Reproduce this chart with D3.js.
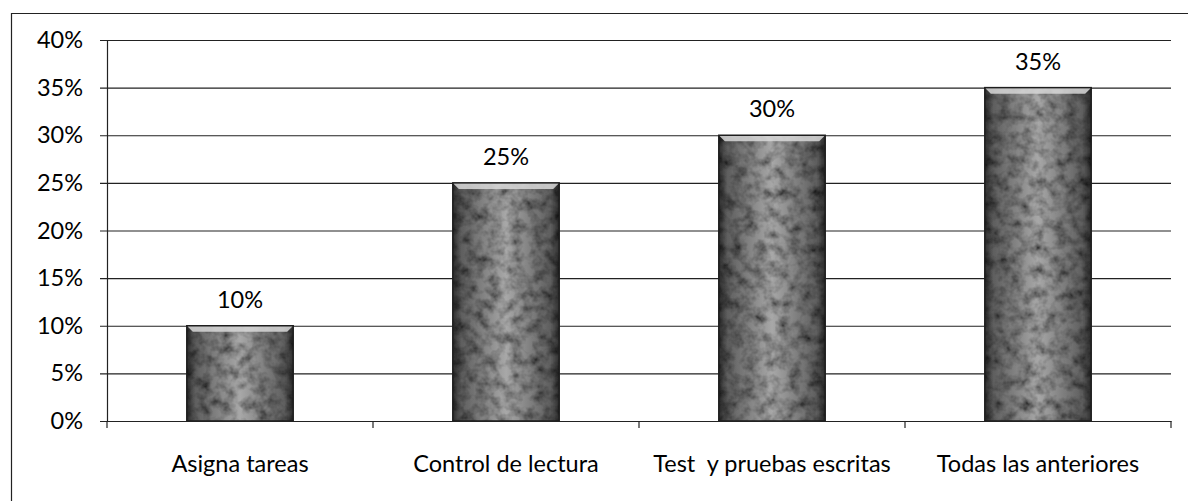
<!DOCTYPE html>
<html>
<head>
<meta charset="utf-8">
<script src="https://cdn.jsdelivr.net/npm/d3@7"></script>
<style>
  html, body { margin: 0; padding: 0; background: #fff; }
  svg { display: block; }
  text { font-family: Lato, "Open Sans", sans-serif; fill: #000; }
</style>
</head>
<body>
<script>
// Categories and their shares
const categories = ["Asigna tareas", "Control de lectura", "Test  y pruebas escritas", "Todas las anteriores"];
const values = [0.10, 0.25, 0.30, 0.35];
const yTicks = [0, 0.05, 0.10, 0.15, 0.20, 0.25, 0.30, 0.35, 0.40];

const W = 1188, H = 501;
const plot = { left: 107, right: 1171, top: 40, bottom: 421 };
const FONT = 23.5;

const svg = d3.select("body").append("svg")
  .attr("width", W).attr("height", H);

const defs = svg.append("defs");

// Grey shading across the column: dark at the sides, lighter in the middle
const grad = defs.append("linearGradient").attr("id", "barGrad")
  .attr("x1", "0").attr("x2", "1").attr("y1", "0").attr("y2", "0");
[[0, "#2e2e2e"], [0.08, "#5e5e5e"], [0.5, "#a8a8a8"], [0.92, "#5e5e5e"], [1, "#2e2e2e"]]
  .forEach(([o, c]) => grad.append("stop").attr("offset", o).attr("stop-color", c));

// Mottled print texture on the columns
const f = defs.append("filter").attr("id", "grain")
  .attr("x", 0).attr("y", 0).attr("width", 1).attr("height", 1);
f.append("feTurbulence").attr("type", "fractalNoise")
  .attr("baseFrequency", "0.09").attr("numOctaves", 3).attr("seed", 7).attr("result", "noise");
f.append("feColorMatrix").attr("in", "noise").attr("type", "matrix")
  .attr("values", "0 0 0 0 0  0 0 0 0 0  0 0 0 0 0  -1.6 0 0 0 1.05")
  .attr("result", "spots");
f.append("feComposite").attr("in", "spots").attr("in2", "SourceGraphic")
  .attr("operator", "in").attr("result", "clipped");
f.append("feMerge").selectAll("feMergeNode")
  .data(["SourceGraphic", "clipped"]).join("feMergeNode").attr("in", d => d);

const x = d3.scaleBand().domain(categories)
  .range([plot.left, plot.right]).paddingInner(0.6).paddingOuter(0.3);
const band = d3.scaleBand().domain(categories).range([plot.left, plot.right]);
const y = d3.scaleLinear().domain([0, 0.40]).range([plot.bottom, plot.top]);
const pct = d3.format(".0%");

// Outer frame (top and left edges inside the viewport)
svg.append("path")
  .attr("d", `M11.5,${H + 2} V13.5 H${W + 2}`)
  .attr("fill", "none").attr("stroke", "#222").attr("stroke-width", 1.2);

// Value axis with horizontal gridlines
const yAxis = d3.axisLeft(y).tickValues(yTicks)
  .tickFormat(pct)
  .tickSize(-(plot.right - plot.left));
const gy = svg.append("g").attr("transform", `translate(${plot.left},0)`).call(yAxis);
gy.select(".domain").attr("stroke", "#222").attr("stroke-width", 1.2);
gy.selectAll(".tick line").attr("stroke", "#222").attr("stroke-width", 1.2)
  .attr("x1", -7);
gy.selectAll(".tick text").attr("font-size", FONT)
  .style("font-family", "Lato, 'Open Sans', sans-serif").attr("x", -24);

// Columns
const bars = svg.append("g").selectAll("g.bar")
  .data(categories.map((c, i) => ({ c, v: values[i] })))
  .join("g").attr("class", "bar");

bars.append("rect")
  .attr("x", d => x(d.c)).attr("width", x.bandwidth())
  .attr("y", d => y(d.v)).attr("height", d => y(0) - y(d.v))
  .attr("fill", "url(#barGrad)").attr("filter", "url(#grain)");

// Light bevel at the top edge
bars.append("path")
  .attr("d", d => {
    const x0 = x(d.c), x1 = x0 + x.bandwidth(), t = y(d.v);
    return `M${x0},${t} H${x1} L${x1 - 6},${t + 6} H${x0 + 6} Z`;
  })
  .attr("fill", "#d8d8d8").attr("opacity", 0.85);

// Dark side edges
bars.append("rect")
  .attr("x", d => x(d.c)).attr("width", x.bandwidth())
  .attr("y", d => y(d.v)).attr("height", d => y(0) - y(d.v))
  .attr("fill", "none").attr("stroke", "#1e1e1e").attr("stroke-width", 1.5);

// Value labels
bars.append("text")
  .attr("x", d => x(d.c) + x.bandwidth() / 2)
  .attr("y", d => y(d.v) - 18)
  .attr("text-anchor", "middle").attr("font-size", FONT)
  .text(d => pct(d.v));

// Category axis
const xAxis = d3.axisBottom(band).tickSize(0).tickFormat("");
const gx = svg.append("g").attr("transform", `translate(0,${plot.bottom})`).call(xAxis);
gx.select(".domain").attr("stroke", "#222").attr("stroke-width", 1.2);
// Tick marks at band boundaries
const bounds = categories.map(c => band(c)).concat([plot.right]);
gx.selectAll("line.bound").data(bounds).join("line").attr("class", "bound")
  .attr("x1", d => d).attr("x2", d => d).attr("y1", 0).attr("y2", 7)
  .attr("stroke", "#222").attr("stroke-width", 1.2);

svg.append("g").selectAll("text.cat").data(categories).join("text")
  .attr("class", "cat")
  .attr("x", d => band(d) + band.bandwidth() / 2)
  .attr("y", 472)
  .attr("text-anchor", "middle").attr("font-size", FONT)
  .style("white-space", "pre")
  .text(d => d);
</script>
</body>
</html>
